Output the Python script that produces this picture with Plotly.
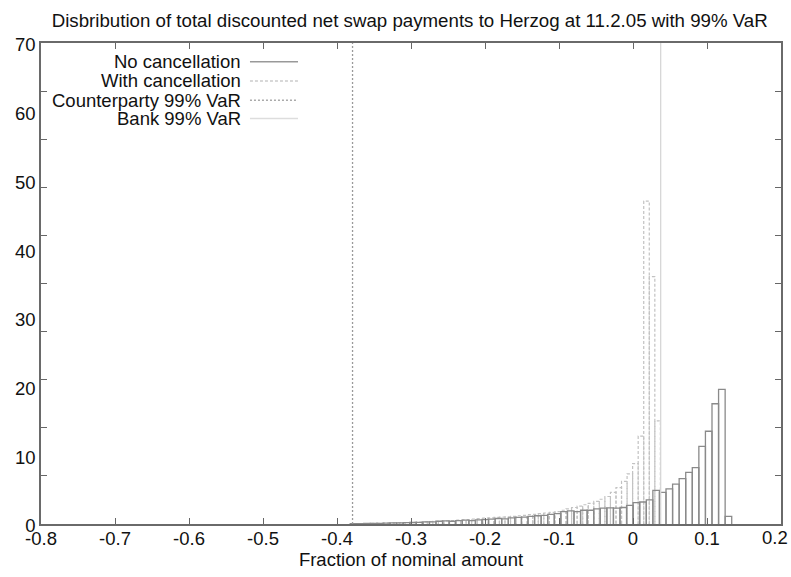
import plotly.graph_objects as go

# Histogram without cancellation: bin counts from left to right
no_cancel_hi_edge = 0.1334
no_cancel_width = 0.00888
no_cancel = [
    0.05, 0.05, 0.1, 0.08, 0.1, 0.12, 0.15, 0.15, 0.2, 0.22,
    0.25, 0.3, 0.32, 0.4, 0.45, 0.4, 0.5, 0.55, 0.5, 0.6,
    0.65, 0.7, 0.8, 0.75, 0.9, 0.95, 1.0, 1.1, 1.2, 1.25,
    1.4, 1.5, 1.8, 1.9, 1.8, 2.0, 2.0, 2.2, 2.3, 2.35,
    2.3, 2.4, 2.7, 3.1, 3.2, 3.5, 4.9, 4.6, 5.1, 5.8,
    6.6, 7.5, 8.2, 11.3, 13.5, 17.5, 19.6, 1.1,
]

# Histogram with cancellation: bin counts from left to right
with_cancel_hi_edge = 0.037
with_cancel_width = 0.0075
with_cancel = [
    0.03, 0.04, 0.05, 0.06, 0.08, 0.1, 0.12, 0.15, 0.18, 0.2,
    0.22, 0.25, 0.28, 0.3, 0.35, 0.38, 0.42, 0.45, 0.5, 0.55,
    0.6, 0.65, 0.7, 0.8, 0.85, 0.9, 0.95, 1.0, 1.05, 1.1,
    1.2, 1.25, 1.35, 1.4, 1.5, 1.6, 1.7, 1.8, 2.0, 2.2,
    2.4, 2.6, 2.8, 3.0, 3.3, 3.6, 4.0, 4.6, 5.3, 6.2,
    7.3, 8.8, 12.8, 47, 36, 15,
]

counterparty_var = -0.379
bank_var = 0.0374

x_ticks = [-0.8, -0.7, -0.6, -0.5, -0.4, -0.3, -0.2, -0.1, 0, 0.1, 0.2]
# the last label sits at the page edge and is placed separately so it stays inside
x_tick_text = ["-0.8", "-0.7", "-0.6", "-0.5", "-0.4", "-0.3", "-0.2", "-0.1", "0", "0.1", ""]
x_last_label = "0.2"
y_labels = [0, 10, 20, 30, 40, 50, 60, 70]
y_tick_marks = [7, 14, 21, 28, 35, 42, 49, 56, 63]

legend_names = ["No cancellation", "With cancellation", "Counterparty 99% VaR", "Bank 99% VaR"]

FONT = "Liberation Sans, Arial, sans-serif"
FS = 18.5
C_SOLID = "#8a8a8a"
C_DASH = "#c2c2c2"
C_CP = "#9a9a9a"
C_BANK = "#d6d6d6"


def box_outline(counts, hi_edge, width):
    """Closed box outlines (one per bin) for a histogram drawn 'with boxes'."""
    n = len(counts)
    xs, ys = [], []
    for i, h in enumerate(counts):
        left = hi_edge - width * (n - i)
        right = left + width
        xs += [left, left, right, right, None]
        ys += [0, h, h, 0, None]
    return xs, ys


fig = go.Figure()

xs, ys = box_outline(with_cancel, with_cancel_hi_edge, with_cancel_width)
fig.add_trace(go.Scatter(x=xs, y=ys, mode="lines", name=legend_names[1],
                         line=dict(color=C_DASH, width=1.2, dash="3px,2px"),
                         hoverinfo="skip", showlegend=False))

xs, ys = box_outline(no_cancel, no_cancel_hi_edge, no_cancel_width)
fig.add_trace(go.Scatter(x=xs, y=ys, mode="lines", name=legend_names[0],
                         line=dict(color=C_SOLID, width=1.3),
                         hoverinfo="skip", showlegend=False))

fig.add_trace(go.Scatter(x=[counterparty_var, counterparty_var], y=[0, 70], mode="lines",
                         name=legend_names[2], line=dict(color=C_CP, width=1.3, dash="2px,2px"),
                         hoverinfo="skip", showlegend=False))
fig.add_trace(go.Scatter(x=[bank_var, bank_var], y=[0, 70], mode="lines",
                         name=legend_names[3], line=dict(color=C_BANK, width=1.3),
                         hoverinfo="skip", showlegend=False))

# Key in the top-left corner: right-aligned labels with line samples on their right
key_styles = [
    dict(color="#999999", width=1.3),
    dict(color="#cccccc", width=1.3, dash="3px,2px"),
    dict(color="#aaaaaa", width=1.3, dash="2px,2px"),
    dict(color="#dddddd", width=1.3),
]
key_rows = [0.961, 0.921, 0.881, 0.843]
for name, style, yrow in zip(legend_names, key_styles, key_rows):
    fig.add_annotation(x=0.273, y=yrow, xref="paper", yref="paper", text=name,
                       showarrow=False, xanchor="right", yanchor="middle",
                       font=dict(family=FONT, size=FS, color="#111111"))
    fig.add_shape(type="line", xref="paper", yref="paper", x0=0.2824, x1=0.3473,
                  y0=yrow, y1=yrow, line=style)

# Right-most x tick label, kept flush with the page edge
fig.add_annotation(x=x_ticks[-1], y=0, xref="x", yref="paper", text=x_last_label,
                   showarrow=False, xanchor="right", yanchor="top", xshift=9, yshift=-1,
                   font=dict(family=FONT, size=FS, color="#111111"))

fig.update_layout(
    width=791, height=577,
    margin=dict(l=41, r=10, t=43, b=53),
    paper_bgcolor="white", plot_bgcolor="white",
    title=dict(text="Disbribution of total discounted net swap payments to Herzog at 11.2.05 with 99% VaR",
               x=0.518, xanchor="center", y=0.964, yanchor="middle",
               font=dict(family=FONT, size=18.7, color="#111111")),
    font=dict(family=FONT, size=FS, color="#111111"),
    showlegend=False,
)

fig.update_xaxes(
    range=[-0.8, 0.2], tickmode="array", tickvals=x_ticks, ticktext=x_tick_text,
    ticks="inside", ticklen=6, tickwidth=1.3, tickcolor="#666666",
    showline=True, linecolor="#6a6a6a", linewidth=1.6, mirror="ticks",
    showgrid=False, zeroline=False, automargin=False, ticklabeloverflow="allow",
    ticklabelstandoff=-3,
    title=dict(text="Fraction of nominal amount", font=dict(family=FONT, size=FS), standoff=4),
    tickfont=dict(family=FONT, size=FS),
)
fig.update_yaxes(
    range=[0, 70], tickmode="array", tickvals=y_labels, ticks="",
    minor=dict(tickmode="array", tickvals=y_tick_marks, ticks="inside",
               ticklen=6, tickwidth=1.3, tickcolor="#666666"),
    showline=True, linecolor="#6a6a6a", linewidth=1.6, mirror="ticks",
    showgrid=False, zeroline=False, ticklabelshift=2, automargin=False,
    ticklabeloverflow="allow",
    tickfont=dict(family=FONT, size=FS),
)

fig.write_html("out.html")
